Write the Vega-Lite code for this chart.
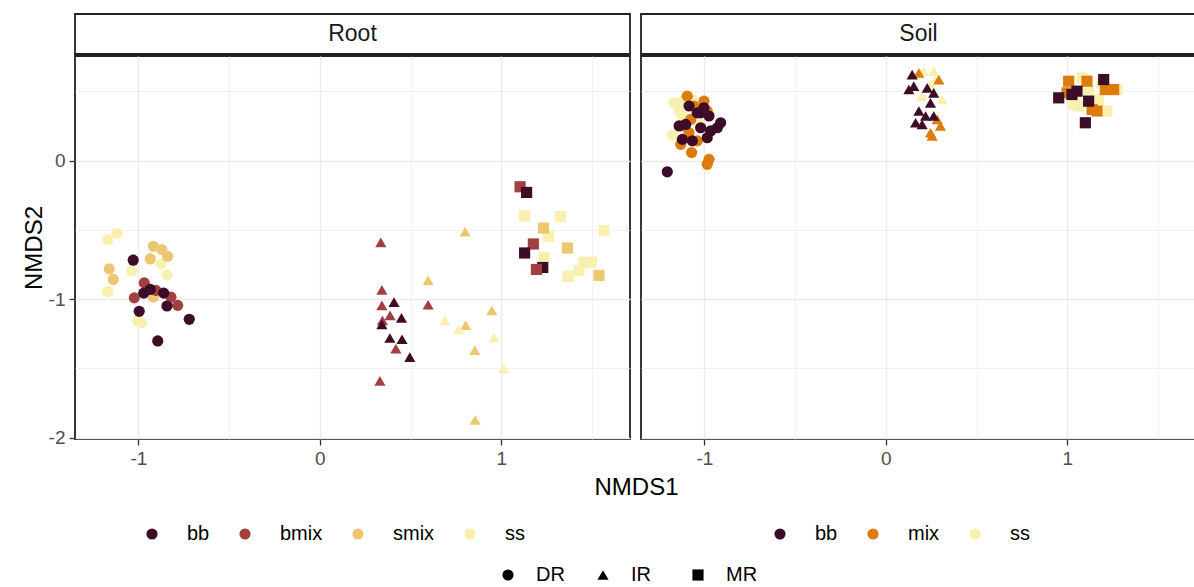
{
  "$schema": "https://vega.github.io/schema/vega-lite/v6.json",
  "background": "white",
  "padding": {"left": 21, "top": 13, "right": 0, "bottom": 0},
  "config": {
    "view": {"stroke": "#222222", "strokeWidth": 1.8},
    "axis": {
      "domain": false,
      "labelFont": "Liberation Sans", "labelFontSize": 19, "labelColor": "#4d4d4d", "labelPadding": 4,
      "tickColor": "#333333", "tickSize": 6, "tickWidth": 1.3,
      "titleFont": "Liberation Sans", "titleFontSize": 24, "titleFontWeight": "normal", "titleColor": "black",
      "gridColor": "#ebebeb"
    },
    "legend": {
      "labelFont": "Liberation Sans", "labelFontSize": 20, "labelColor": "black",
      "symbolSize": 125, "symbolStrokeWidth": 0, "symbolOpacity": 1,
      "labelOffset": 25, "columnPadding": 25, "direction": "horizontal"
    }
  },
  "datasets": {
    "rootData": [
      {"NMDS1": -1.170, "NMDS2": -0.571, "type": "ss", "site": "DR"},
      {"NMDS1": -1.119, "NMDS2": -0.525, "type": "ss", "site": "DR"},
      {"NMDS1": -1.037, "NMDS2": -0.796, "type": "ss", "site": "DR"},
      {"NMDS1": -0.876, "NMDS2": -0.746, "type": "ss", "site": "DR"},
      {"NMDS1": -0.843, "NMDS2": -0.825, "type": "ss", "site": "DR"},
      {"NMDS1": -1.170, "NMDS2": -0.945, "type": "ss", "site": "DR"},
      {"NMDS1": -1.004, "NMDS2": -1.160, "type": "ss", "site": "DR"},
      {"NMDS1": -0.981, "NMDS2": -1.171, "type": "ss", "site": "DR"},
      {"NMDS1": -0.918, "NMDS2": -0.619, "type": "smix", "site": "DR"},
      {"NMDS1": -0.871, "NMDS2": -0.642, "type": "smix", "site": "DR"},
      {"NMDS1": -0.839, "NMDS2": -0.691, "type": "smix", "site": "DR"},
      {"NMDS1": -0.935, "NMDS2": -0.710, "type": "smix", "site": "DR"},
      {"NMDS1": -1.161, "NMDS2": -0.782, "type": "smix", "site": "DR"},
      {"NMDS1": -1.139, "NMDS2": -0.858, "type": "smix", "site": "DR"},
      {"NMDS1": -0.918, "NMDS2": -0.986, "type": "smix", "site": "DR"},
      {"NMDS1": -0.968, "NMDS2": -0.883, "type": "bmix", "site": "DR"},
      {"NMDS1": -1.023, "NMDS2": -0.991, "type": "bmix", "site": "DR"},
      {"NMDS1": -0.904, "NMDS2": -0.937, "type": "bmix", "site": "DR"},
      {"NMDS1": -0.821, "NMDS2": -0.986, "type": "bmix", "site": "DR"},
      {"NMDS1": -0.784, "NMDS2": -1.045, "type": "bmix", "site": "DR"},
      {"NMDS1": -1.029, "NMDS2": -0.719, "type": "bb", "site": "DR"},
      {"NMDS1": -0.971, "NMDS2": -0.957, "type": "bb", "site": "DR"},
      {"NMDS1": -0.935, "NMDS2": -0.930, "type": "bb", "site": "DR"},
      {"NMDS1": -0.861, "NMDS2": -0.957, "type": "bb", "site": "DR"},
      {"NMDS1": -0.843, "NMDS2": -1.050, "type": "bb", "site": "DR"},
      {"NMDS1": -0.996, "NMDS2": -1.088, "type": "bb", "site": "DR"},
      {"NMDS1": -0.720, "NMDS2": -1.146, "type": "bb", "site": "DR"},
      {"NMDS1": -0.894, "NMDS2": -1.302, "type": "bb", "site": "DR"},
      {"NMDS1": 0.336, "NMDS2": -0.590, "type": "bmix", "site": "IR"},
      {"NMDS1": 0.342, "NMDS2": -0.933, "type": "bmix", "site": "IR"},
      {"NMDS1": 0.342, "NMDS2": -1.045, "type": "bmix", "site": "IR"},
      {"NMDS1": 0.387, "NMDS2": -1.117, "type": "bmix", "site": "IR"},
      {"NMDS1": 0.345, "NMDS2": -1.153, "type": "bmix", "site": "IR"},
      {"NMDS1": 0.419, "NMDS2": -1.358, "type": "bmix", "site": "IR"},
      {"NMDS1": 0.331, "NMDS2": -1.590, "type": "bmix", "site": "IR"},
      {"NMDS1": 0.597, "NMDS2": -1.041, "type": "bmix", "site": "IR"},
      {"NMDS1": 0.409, "NMDS2": -1.022, "type": "bb", "site": "IR"},
      {"NMDS1": 0.450, "NMDS2": -1.135, "type": "bb", "site": "IR"},
      {"NMDS1": 0.342, "NMDS2": -1.182, "type": "bb", "site": "IR"},
      {"NMDS1": 0.386, "NMDS2": -1.281, "type": "bb", "site": "IR"},
      {"NMDS1": 0.453, "NMDS2": -1.290, "type": "bb", "site": "IR"},
      {"NMDS1": 0.496, "NMDS2": -1.419, "type": "bb", "site": "IR"},
      {"NMDS1": 0.801, "NMDS2": -0.513, "type": "smix", "site": "IR"},
      {"NMDS1": 0.597, "NMDS2": -0.865, "type": "smix", "site": "IR"},
      {"NMDS1": 0.948, "NMDS2": -1.081, "type": "smix", "site": "IR"},
      {"NMDS1": 0.804, "NMDS2": -1.189, "type": "smix", "site": "IR"},
      {"NMDS1": 0.854, "NMDS2": -1.369, "type": "smix", "site": "IR"},
      {"NMDS1": 0.856, "NMDS2": -1.873, "type": "smix", "site": "IR"},
      {"NMDS1": 0.689, "NMDS2": -1.153, "type": "ss", "site": "IR"},
      {"NMDS1": 0.767, "NMDS2": -1.218, "type": "ss", "site": "IR"},
      {"NMDS1": 0.959, "NMDS2": -1.278, "type": "ss", "site": "IR"},
      {"NMDS1": 1.012, "NMDS2": -1.501, "type": "ss", "site": "IR"},
      {"NMDS1": 1.129, "NMDS2": -0.398, "type": "ss", "site": "MR"},
      {"NMDS1": 1.328, "NMDS2": -0.405, "type": "ss", "site": "MR"},
      {"NMDS1": 1.260, "NMDS2": -0.547, "type": "ss", "site": "MR"},
      {"NMDS1": 1.236, "NMDS2": -0.698, "type": "ss", "site": "MR"},
      {"NMDS1": 1.566, "NMDS2": -0.506, "type": "ss", "site": "MR"},
      {"NMDS1": 1.456, "NMDS2": -0.734, "type": "ss", "site": "MR"},
      {"NMDS1": 1.497, "NMDS2": -0.734, "type": "ss", "site": "MR"},
      {"NMDS1": 1.429, "NMDS2": -0.794, "type": "ss", "site": "MR"},
      {"NMDS1": 1.368, "NMDS2": -0.835, "type": "ss", "site": "MR"},
      {"NMDS1": 1.233, "NMDS2": -0.487, "type": "smix", "site": "MR"},
      {"NMDS1": 1.365, "NMDS2": -0.631, "type": "smix", "site": "MR"},
      {"NMDS1": 1.539, "NMDS2": -0.829, "type": "smix", "site": "MR"},
      {"NMDS1": 1.104, "NMDS2": -0.189, "type": "bmix", "site": "MR"},
      {"NMDS1": 1.177, "NMDS2": -0.602, "type": "bmix", "site": "MR"},
      {"NMDS1": 1.229, "NMDS2": -0.772, "type": "bb", "site": "MR"},
      {"NMDS1": 1.194, "NMDS2": -0.786, "type": "bmix", "site": "MR"},
      {"NMDS1": 1.140, "NMDS2": -0.230, "type": "bb", "site": "MR"},
      {"NMDS1": 1.129, "NMDS2": -0.667, "type": "bb", "site": "MR"}
    ],
    "soilData": [
      {"NMDS1": -1.168, "NMDS2": 0.417, "type": "ss", "site": "DR"},
      {"NMDS1": -1.122, "NMDS2": 0.429, "type": "ss", "site": "DR"},
      {"NMDS1": -1.067, "NMDS2": 0.441, "type": "ss", "site": "DR"},
      {"NMDS1": -1.122, "NMDS2": 0.322, "type": "ss", "site": "DR"},
      {"NMDS1": -1.177, "NMDS2": 0.182, "type": "ss", "site": "DR"},
      {"NMDS1": -1.021, "NMDS2": 0.261, "type": "ss", "site": "DR"},
      {"NMDS1": -1.140, "NMDS2": 0.358, "type": "ss", "site": "DR"},
      {"NMDS1": -1.095, "NMDS2": 0.465, "type": "mix", "site": "DR"},
      {"NMDS1": -1.003, "NMDS2": 0.429, "type": "mix", "site": "DR"},
      {"NMDS1": -1.058, "NMDS2": 0.394, "type": "mix", "site": "DR"},
      {"NMDS1": -1.076, "NMDS2": 0.297, "type": "mix", "site": "DR"},
      {"NMDS1": -0.985, "NMDS2": 0.358, "type": "mix", "site": "DR"},
      {"NMDS1": -1.085, "NMDS2": 0.201, "type": "mix", "site": "DR"},
      {"NMDS1": -1.040, "NMDS2": 0.142, "type": "mix", "site": "DR"},
      {"NMDS1": -1.131, "NMDS2": 0.117, "type": "mix", "site": "DR"},
      {"NMDS1": -1.071, "NMDS2": 0.058, "type": "mix", "site": "DR"},
      {"NMDS1": -0.975, "NMDS2": 0.009, "type": "mix", "site": "DR"},
      {"NMDS1": -0.985, "NMDS2": -0.027, "type": "mix", "site": "DR"},
      {"NMDS1": -1.113, "NMDS2": 0.250, "type": "mix", "site": "DR"},
      {"NMDS1": -1.003, "NMDS2": 0.381, "type": "bb", "site": "DR"},
      {"NMDS1": -0.975, "NMDS2": 0.322, "type": "bb", "site": "DR"},
      {"NMDS1": -1.040, "NMDS2": 0.345, "type": "bb", "site": "DR"},
      {"NMDS1": -1.140, "NMDS2": 0.250, "type": "bb", "site": "DR"},
      {"NMDS1": -1.104, "NMDS2": 0.261, "type": "bb", "site": "DR"},
      {"NMDS1": -1.021, "NMDS2": 0.237, "type": "bb", "site": "DR"},
      {"NMDS1": -0.966, "NMDS2": 0.214, "type": "bb", "site": "DR"},
      {"NMDS1": -0.911, "NMDS2": 0.273, "type": "bb", "site": "DR"},
      {"NMDS1": -0.929, "NMDS2": 0.237, "type": "bb", "site": "DR"},
      {"NMDS1": -1.122, "NMDS2": 0.153, "type": "bb", "site": "DR"},
      {"NMDS1": -1.067, "NMDS2": 0.142, "type": "bb", "site": "DR"},
      {"NMDS1": -0.985, "NMDS2": 0.165, "type": "bb", "site": "DR"},
      {"NMDS1": -1.085, "NMDS2": 0.394, "type": "bb", "site": "DR"},
      {"NMDS1": -1.021, "NMDS2": 0.345, "type": "bb", "site": "DR"},
      {"NMDS1": -1.205, "NMDS2": -0.081, "type": "bb", "site": "DR"},
      {"NMDS1": 0.209, "NMDS2": 0.645, "type": "ss", "site": "IR"},
      {"NMDS1": 0.264, "NMDS2": 0.645, "type": "ss", "site": "IR"},
      {"NMDS1": 0.246, "NMDS2": 0.549, "type": "ss", "site": "IR"},
      {"NMDS1": 0.310, "NMDS2": 0.441, "type": "ss", "site": "IR"},
      {"NMDS1": 0.200, "NMDS2": 0.465, "type": "ss", "site": "IR"},
      {"NMDS1": 0.283, "NMDS2": 0.597, "type": "ss", "site": "IR"},
      {"NMDS1": 0.182, "NMDS2": 0.633, "type": "mix", "site": "IR"},
      {"NMDS1": 0.292, "NMDS2": 0.585, "type": "mix", "site": "IR"},
      {"NMDS1": 0.283, "NMDS2": 0.297, "type": "mix", "site": "IR"},
      {"NMDS1": 0.301, "NMDS2": 0.250, "type": "mix", "site": "IR"},
      {"NMDS1": 0.246, "NMDS2": 0.201, "type": "mix", "site": "IR"},
      {"NMDS1": 0.255, "NMDS2": 0.178, "type": "mix", "site": "IR"},
      {"NMDS1": 0.145, "NMDS2": 0.621, "type": "bb", "site": "IR"},
      {"NMDS1": 0.127, "NMDS2": 0.513, "type": "bb", "site": "IR"},
      {"NMDS1": 0.154, "NMDS2": 0.537, "type": "bb", "site": "IR"},
      {"NMDS1": 0.228, "NMDS2": 0.525, "type": "bb", "site": "IR"},
      {"NMDS1": 0.264, "NMDS2": 0.489, "type": "bb", "site": "IR"},
      {"NMDS1": 0.246, "NMDS2": 0.417, "type": "bb", "site": "IR"},
      {"NMDS1": 0.182, "NMDS2": 0.358, "type": "bb", "site": "IR"},
      {"NMDS1": 0.164, "NMDS2": 0.273, "type": "bb", "site": "IR"},
      {"NMDS1": 0.200, "NMDS2": 0.261, "type": "bb", "site": "IR"},
      {"NMDS1": 0.264, "NMDS2": 0.322, "type": "bb", "site": "IR"},
      {"NMDS1": 0.219, "NMDS2": 0.322, "type": "bb", "site": "IR"},
      {"NMDS1": 1.082, "NMDS2": 0.597, "type": "ss", "site": "MR"},
      {"NMDS1": 1.192, "NMDS2": 0.561, "type": "ss", "site": "MR"},
      {"NMDS1": 1.118, "NMDS2": 0.501, "type": "ss", "site": "MR"},
      {"NMDS1": 1.174, "NMDS2": 0.441, "type": "ss", "site": "MR"},
      {"NMDS1": 1.063, "NMDS2": 0.394, "type": "ss", "site": "MR"},
      {"NMDS1": 1.219, "NMDS2": 0.358, "type": "ss", "site": "MR"},
      {"NMDS1": 1.274, "NMDS2": 0.513, "type": "ss", "site": "MR"},
      {"NMDS1": 1.036, "NMDS2": 0.405, "type": "ss", "site": "MR"},
      {"NMDS1": 1.008, "NMDS2": 0.573, "type": "mix", "site": "MR"},
      {"NMDS1": 1.109, "NMDS2": 0.573, "type": "mix", "site": "MR"},
      {"NMDS1": 1.210, "NMDS2": 0.513, "type": "mix", "site": "MR"},
      {"NMDS1": 1.256, "NMDS2": 0.513, "type": "mix", "site": "MR"},
      {"NMDS1": 1.137, "NMDS2": 0.369, "type": "mix", "site": "MR"},
      {"NMDS1": 1.164, "NMDS2": 0.358, "type": "mix", "site": "MR"},
      {"NMDS1": 0.999, "NMDS2": 0.489, "type": "mix", "site": "MR"},
      {"NMDS1": 0.953, "NMDS2": 0.453, "type": "bb", "site": "MR"},
      {"NMDS1": 1.026, "NMDS2": 0.477, "type": "bb", "site": "MR"},
      {"NMDS1": 1.054, "NMDS2": 0.501, "type": "bb", "site": "MR"},
      {"NMDS1": 1.201, "NMDS2": 0.585, "type": "bb", "site": "MR"},
      {"NMDS1": 1.100, "NMDS2": 0.273, "type": "bb", "site": "MR"},
      {"NMDS1": 1.118, "NMDS2": 0.429, "type": "bb", "site": "MR"}
    ]
  },
  "vconcat": [
    {
      "hconcat": [
        {
          "data": {"values": [{"panel": "Root"}]},
          "width": 555, "height": 40,
          "mark": {"type": "text", "font": "Liberation Sans", "fontSize": 23, "color": "#1a1a1a", "baseline": "middle"},
          "encoding": {
            "x": {"datum": 0, "type": "quantitative", "scale": {"domain": [-1, 1]}, "axis": null},
            "y": {"datum": 0, "type": "quantitative", "scale": {"domain": [-1, 1]}, "axis": null},
            "text": {"field": "panel"}
          }
        },
        {
          "data": {"values": [{"panel": "Soil"}]},
          "width": 555, "height": 40,
          "mark": {"type": "text", "font": "Liberation Sans", "fontSize": 23, "color": "#1a1a1a", "baseline": "middle"},
          "encoding": {
            "x": {"datum": 0, "type": "quantitative", "scale": {"domain": [-1, 1]}, "axis": null},
            "y": {"datum": 0, "type": "quantitative", "scale": {"domain": [-1, 1]}, "axis": null},
            "text": {"field": "panel"}
          }
        }
      ],
      "spacing": 11,
      "bounds": "flush",
      "resolve": {"scale": {"x": "independent", "y": "independent"}}
    },
    {
      "hconcat": [
        {
          "data": {"name": "rootData"},
          "width": 555, "height": 383,
          "mark": {"type": "point", "filled": true, "opacity": 1, "size": 125},
          "encoding": {
            "x": {
              "field": "NMDS1", "type": "quantitative",
              "scale": {"domain": [-1.35, 1.71], "nice": false, "zero": false},
              "axis": {
                "values": [-1.5, -1, -0.5, 0, 0.5, 1, 1.5],
                "labelExpr": "datum.value % 1 === 0 ? '' + datum.value : ''",
                "title": "NMDS1", "titleX": 561, "titleY": 48, "titleBaseline": "middle",
                "tickOpacity": {"condition": {"test": "datum.value % 1 !== 0", "value": 0}, "value": 1},
                "gridWidth": {"condition": {"test": "datum.value % 1 !== 0", "value": 0.7}, "value": 1.4}
              }
            },
            "y": {
              "field": "NMDS2", "type": "quantitative",
              "scale": {"domain": [-2.01, 0.755], "nice": false, "zero": false},
              "axis": {
                "values": [-2, -1.5, -1, -0.5, 0, 0.5],
                "labelExpr": "datum.value % 1 === 0 ? '' + datum.value : ''",
                "title": "NMDS2", "titlePadding": 2,
                "tickOpacity": {"condition": {"test": "datum.value % 1 !== 0", "value": 0}, "value": 1},
                "gridWidth": {"condition": {"test": "datum.value % 1 !== 0", "value": 0.7}, "value": 1.4}
              }
            },
            "color": {
              "field": "type", "type": "nominal",
              "scale": {"domain": ["bb", "bmix", "smix", "ss"], "range": ["#3d0c26", "#a04040", "#ecc771", "#f7f0ae"]},
              "legend": {"title": null, "orient": "none", "legendX": 67, "legendY": 468, "symbolType": "circle", "direction": "horizontal"}
            },
            "shape": {
              "field": "site", "type": "nominal",
              "scale": {"domain": ["DR", "IR", "MR"], "range": ["circle", "triangle-up", "square"]},
              "legend": {"title": null, "orient": "none", "legendX": 423, "legendY": 551, "direction": "horizontal", "symbolFillColor": "black", "labelOffset": 18, "columnPadding": 25, "gridAlign": "all"}
            }
          }
        },
        {
          "data": {"name": "soilData"},
          "width": 555, "height": 383,
          "mark": {"type": "point", "filled": true, "opacity": 1, "size": 125},
          "encoding": {
            "x": {
              "field": "NMDS1", "type": "quantitative",
              "scale": {"domain": [-1.35, 1.71], "nice": false, "zero": false},
              "axis": {
                "values": [-1.5, -1, -0.5, 0, 0.5, 1, 1.5],
                "labelExpr": "datum.value % 1 === 0 ? '' + datum.value : ''",
                "title": null,
                "tickOpacity": {"condition": {"test": "datum.value % 1 !== 0", "value": 0}, "value": 1},
                "gridWidth": {"condition": {"test": "datum.value % 1 !== 0", "value": 0.7}, "value": 1.4}
              }
            },
            "y": {
              "field": "NMDS2", "type": "quantitative",
              "scale": {"domain": [-2.01, 0.755], "nice": false, "zero": false},
              "axis": {
                "values": [-2, -1.5, -1, -0.5, 0, 0.5],
                "labels": false, "ticks": false, "title": null,
                "gridWidth": {"condition": {"test": "datum.value % 1 !== 0", "value": 0.7}, "value": 1.4}
              }
            },
            "color": {
              "field": "type", "type": "nominal",
              "scale": {"domain": ["bb", "mix", "ss"], "range": ["#3d0c26", "#dd7c0c", "#f7f0ae"]},
              "legend": {"title": null, "orient": "none", "legendX": 129, "legendY": 468, "symbolType": "circle", "direction": "horizontal"}
            },
            "shape": {
              "field": "site", "type": "nominal",
              "scale": {"domain": ["DR", "IR", "MR"], "range": ["circle", "triangle-up", "square"]}
            }
          }
        }
      ],
      "spacing": 11,
      "bounds": "flush",
      "resolve": {
        "scale": {"color": "independent", "shape": "shared", "x": "independent", "y": "independent"},
        "legend": {"color": "independent", "shape": "shared"},
        "axis": {"x": "independent", "y": "independent"}
      }
    }
  ],
  "spacing": 0,
  "resolve": {
    "scale": {"color": "independent", "shape": "shared", "x": "independent", "y": "independent"},
    "legend": {"color": "independent", "shape": "shared"},
    "axis": {"x": "independent", "y": "independent"}
  }
}
